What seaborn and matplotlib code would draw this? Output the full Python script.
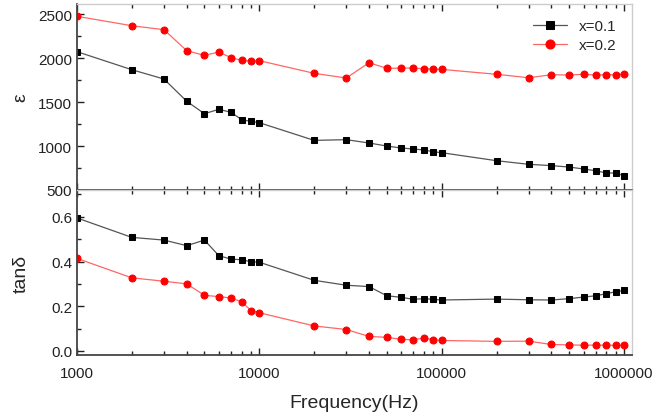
import numpy as np
import pandas as pd
import matplotlib.pyplot as plt
import seaborn as sns
from matplotlib.ticker import FixedLocator, MultipleLocator, FuncFormatter

freq = [1000, 2000, 3000, 4000, 5000, 6000, 7000, 8000, 9000,
        10000, 20000, 30000, 40000, 50000, 60000, 70000, 80000, 90000,
        100000, 200000, 300000, 400000, 500000, 600000, 700000, 800000, 900000,
        1000000]

eps_01 = [2072, 1867, 1761, 1508, 1367, 1417, 1383, 1299, 1280,
          1265, 1064, 1072, 1034, 1000, 977, 966, 955, 935,
          924, 833, 792, 777, 761, 739, 719, 693, 693,
          663]
eps_02 = [2474, 2367, 2322, 2083, 2030, 2068, 2004, 1974, 1966,
          1970, 1826, 1773, 1947, 1883, 1886, 1886, 1878, 1875,
          1871, 1815, 1776, 1810, 1807, 1815, 1807, 1810, 1810,
          1818]

tan_01 = [0.595, 0.508, 0.496, 0.471, 0.496, 0.426, 0.411, 0.408, 0.399,
          0.397, 0.316, 0.294, 0.288, 0.247, 0.240, 0.231, 0.234, 0.231,
          0.228, 0.232, 0.229, 0.228, 0.234, 0.241, 0.247, 0.256, 0.265,
          0.271]
tan_02 = [0.414, 0.327, 0.312, 0.300, 0.249, 0.243, 0.237, 0.220, 0.181,
          0.171, 0.112, 0.096, 0.065, 0.061, 0.052, 0.050, 0.058, 0.050,
          0.047, 0.043, 0.044, 0.029, 0.027, 0.026, 0.026, 0.026, 0.025,
          0.025]

labels = ["x=0.1", "x=0.2"]

sns.set_theme(style="ticks")
plt.rcParams['font.family'] = ['Liberation Sans', 'DejaVu Sans']

fig = plt.figure(figsize=(6.62, 4.14), dpi=100)
ax1 = fig.add_axes([77/662, 1 - 191/414, (632-77)/662, (191-5)/414])
ax2 = fig.add_axes([77/662, 1 - 356/414, (632-77)/662, (356-191)/414], sharex=ax1)

styles = [dict(color="#555555", marker="s", markerfacecolor="black", markeredgecolor="black",
               markersize=4.5),
          dict(color="#ff6666", marker="o", markerfacecolor="red", markeredgecolor="red",
               markersize=5)]

for ax, series in [(ax1, [eps_01, eps_02]), (ax2, [tan_01, tan_02])]:
    for vals, lab, st in zip(series, labels, styles):
        sns.lineplot(x=freq, y=vals, ax=ax, label=lab, linewidth=0.9, **st)

ax1.set_xscale("log")
ax1.set_xlim(1000, 1.107e6)
ax1.set_ylim(500, 2614)
ax2.set_ylim(-0.018, 0.72)

ax1.yaxis.set_major_locator(FixedLocator([500, 1000, 1500, 2000, 2500]))
ax1.yaxis.set_minor_locator(MultipleLocator(250))
ax2.yaxis.set_major_locator(FixedLocator([0.0, 0.2, 0.4, 0.6]))
ax2.yaxis.set_minor_locator(MultipleLocator(0.1))
ax2.yaxis.set_major_formatter(FuncFormatter(lambda v, p: f"{v:.1f}"))
ax2.xaxis.set_major_formatter(FuncFormatter(lambda v, p: f"{int(round(v))}"))

for ax in (ax1, ax2):
    ax.tick_params(which="both", direction="in", top=True, labelsize=11, colors="#222222")
    ax.tick_params(which="major", length=5, width=1)
    ax.tick_params(which="minor", length=3, width=1)
    ax.tick_params(axis="x", labeltop=False, pad=8)
    for s in ("left", "bottom"):
        ax.spines[s].set_color("#444444")
        ax.spines[s].set_linewidth(1.3)
    for s in ("right", "top"):
        ax.spines[s].set_color("#cccccc")
        ax.spines[s].set_linewidth(1)
    ax.set_xlabel("")

ax1.tick_params(axis="x", labelbottom=False)
ax1.set_ylabel("ε", fontsize=14)
ax2.set_ylabel("tanδ", fontsize=14)
ax2.set_xlabel("Frequency(Hz)", fontsize=14, labelpad=10)
ax1.yaxis.set_label_coords(-0.085, 0.5)
ax2.yaxis.set_label_coords(-0.085, 0.5)

ax1.legend(loc="upper right", frameon=False, fontsize=11, handlelength=2.2,
           borderaxespad=0.6, labelspacing=0.3, markerscale=1.3)
ax2.get_legend().remove()

fig.savefig("out.png", dpi=100)
